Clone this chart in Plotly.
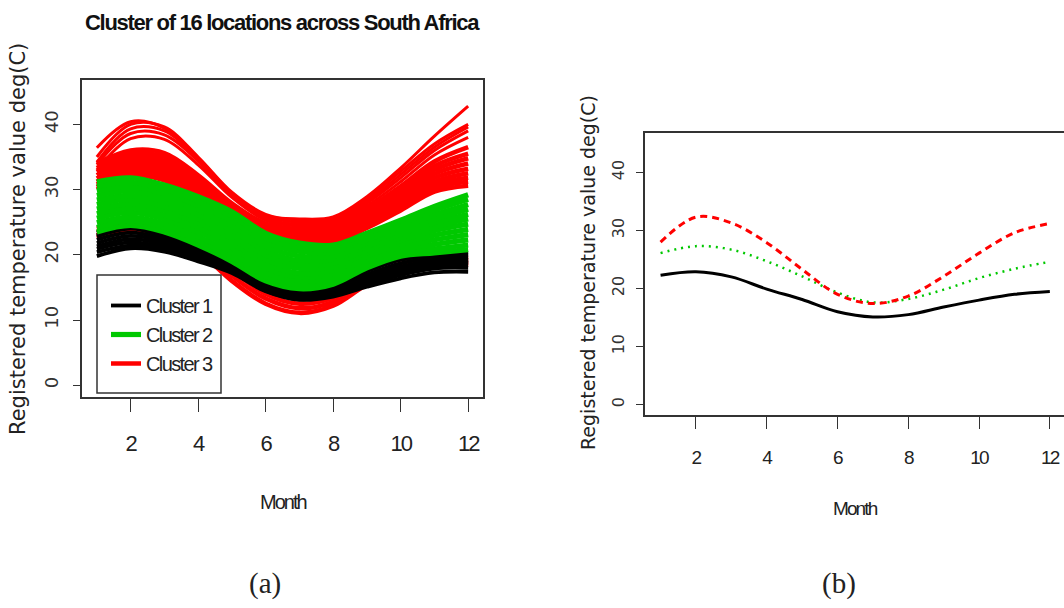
import plotly.graph_objects as go

# ---------------------------------------------------------------
# Data: registered monthly temperature curves (deg C), months 1..12
# ---------------------------------------------------------------
months = [1, 2, 3, 4, 5, 6, 7, 8, 9, 10, 11, 12]

# Cluster 1 (coolest locations)
cluster1_curves = [
    [23.4, 24.6, 23.4, 21.6, 19.3, 16.8, 15.5, 15.9, 17.9, 19.6, 20.2, 20.3],
    [22.8, 24.0, 22.9, 21.0, 18.8, 16.4, 15.1, 15.5, 17.5, 19.2, 19.9, 20.0],
    [23.0, 24.2, 22.5, 20.0, 17.5, 14.5, 13.2, 13.8, 15.6, 17.5, 18.6, 19.0],
    [22.3, 23.4, 22.4, 20.6, 18.5, 16.0, 14.7, 15.1, 17.0, 18.7, 19.5, 19.6],
    [21.8, 22.9, 22.0, 20.2, 18.2, 15.6, 14.3, 14.8, 16.6, 18.2, 19.1, 19.2],
    [21.3, 22.4, 21.6, 19.8, 17.9, 15.3, 14.0, 14.5, 16.2, 17.8, 18.7, 18.8],
    [20.9, 21.9, 21.2, 19.5, 17.6, 15.0, 13.7, 14.2, 15.8, 17.3, 18.3, 18.4],
    [20.4, 21.4, 20.9, 19.2, 17.4, 14.7, 13.4, 13.9, 15.4, 16.9, 17.9, 18.0],
    [19.8, 21.0, 20.5, 19.0, 17.2, 14.4, 13.1, 13.6, 15.1, 16.4, 17.3, 17.4],
]

# Cluster 2 (intermediate locations)
cluster2_curves = [
    [23.5, 24.5, 23.5, 21.5, 19.0, 16.0, 14.8, 15.5, 18.0, 19.8, 20.3, 20.8],
    [24.2, 25.2, 24.2, 22.2, 19.7, 16.7, 15.4, 16.0, 18.4, 20.2, 20.9, 21.5],
    [24.9, 25.8, 24.8, 22.8, 20.4, 17.3, 16.0, 16.5, 18.9, 20.7, 21.6, 22.3],
    [25.6, 26.5, 25.5, 23.5, 21.1, 18.0, 16.6, 17.1, 19.3, 21.2, 22.3, 23.1],
    [26.3, 27.2, 26.1, 24.2, 21.8, 18.7, 17.2, 17.6, 19.8, 21.7, 23.0, 23.9],
    [27.0, 27.8, 26.8, 24.9, 22.5, 19.3, 17.9, 18.2, 20.3, 22.2, 23.7, 24.7],
    [27.7, 28.5, 27.4, 25.5, 23.1, 20.0, 18.5, 18.7, 20.8, 22.7, 24.3, 25.5],
    [28.4, 29.1, 28.1, 26.2, 23.8, 20.6, 19.1, 19.3, 21.3, 23.2, 24.9, 26.2],
    [29.1, 29.8, 28.7, 26.9, 24.5, 21.3, 19.8, 19.8, 21.8, 23.7, 25.5, 27.0],
    [29.8, 30.5, 29.4, 27.6, 25.2, 22.0, 20.5, 20.4, 22.3, 24.2, 26.1, 27.7],
    [30.5, 31.1, 30.0, 28.2, 25.9, 22.6, 21.1, 20.9, 22.8, 24.8, 26.8, 28.5],
    [31.2, 31.8, 30.7, 28.9, 26.6, 23.3, 21.8, 21.5, 23.3, 25.3, 27.4, 29.2],
]

# Cluster 3 (hottest / most seasonal locations): a few extreme curves ...
cluster3_upper = [
    [36.4, 40.4, 39.4, 34.4, 29.0, 26.0, 25.5, 25.8, 28.9, 33.3, 38.2, 42.8],
    [35.0, 40.0, 39.6, 35.0, 29.6, 26.2, 25.3, 25.6, 28.6, 32.8, 37.0, 40.0],
    [34.2, 39.3, 39.0, 34.8, 29.4, 25.9, 25.0, 25.3, 28.2, 32.3, 36.5, 39.6],
    [33.8, 38.6, 38.4, 34.4, 29.2, 25.6, 24.7, 25.0, 27.9, 31.8, 36.0, 39.0],
    [33.0, 37.8, 37.7, 33.8, 28.8, 25.3, 24.4, 24.7, 27.5, 31.2, 35.3, 38.0],
]
# ... and the dense body of the cluster
cluster3_curves = [
    [34.0, 36.0, 35.6, 32.2, 27.9, 24.8, 24.0, 24.3, 27.0, 30.5, 34.3, 36.5],
    [33.3, 35.5, 35.0, 31.6, 27.5, 24.5, 23.7, 24.0, 26.6, 30.0, 33.6, 35.5],
    [32.7, 35.0, 34.4, 31.0, 27.0, 24.1, 23.4, 23.7, 26.2, 29.5, 33.0, 34.8],
    [32.2, 34.5, 33.9, 30.5, 26.6, 23.8, 23.1, 23.4, 25.8, 29.0, 32.4, 34.0],
    [31.7, 34.0, 33.4, 30.0, 26.2, 23.5, 22.8, 23.1, 25.4, 28.5, 31.8, 33.2],
    [31.2, 33.5, 32.9, 29.5, 25.8, 23.2, 22.5, 22.8, 25.0, 28.0, 31.2, 32.5],
    [30.8, 33.0, 32.4, 29.0, 25.4, 22.9, 22.2, 22.5, 24.7, 27.6, 30.7, 31.8],
    [30.4, 32.5, 31.9, 28.6, 25.0, 22.6, 21.9, 22.2, 24.4, 27.2, 30.2, 31.2],
    [30.0, 32.0, 31.4, 28.2, 24.6, 22.3, 21.6, 21.9, 24.1, 26.8, 29.7, 30.6],
    [22.6, 23.6, 22.4, 20.4, 16.0, 12.5, 11.1, 12.2, 15.4, 17.5, 18.3, 18.5],
    [23.0, 24.0, 22.8, 20.8, 16.8, 13.3, 11.8, 12.8, 15.8, 17.8, 18.6, 18.8],
    [23.5, 24.4, 23.2, 21.2, 17.6, 14.0, 12.5, 13.4, 16.2, 18.2, 19.0, 19.2],
    [24.0, 24.8, 23.6, 21.6, 18.3, 14.7, 13.2, 14.0, 16.6, 18.6, 19.4, 19.6],
]

# Mean curve of each cluster
cluster1_mean = [22.3, 22.9, 22.0, 19.9, 18.1, 16.0, 15.1, 15.5, 16.8, 18.0, 19.0, 19.5]
cluster2_mean = [26.1, 27.3, 26.7, 24.7, 22.1, 19.3, 17.6, 18.2, 19.8, 21.8, 23.4, 24.6]
cluster3_mean = [28.0, 32.3, 31.3, 27.9, 23.3, 19.0, 17.4, 18.7, 22.1, 26.1, 29.6, 31.2]

cluster_names = ["Cluster 1", "Cluster 2", "Cluster 3"]
month_ticks = [2, 4, 6, 8, 10, 12]
temp_ticks = [0, 10, 20, 30, 40]

# ---------------------------------------------------------------
BLACK = "#000000"
GREEN = "#00C800"
RED = "#FF0000"
AXIS = "#333333"
SANS = "Liberation Sans, Arial, sans-serif"
WIDE = "DejaVu Sans, Verdana, sans-serif"
SERIF = "Liberation Serif, Times New Roman, serif"

W, H = 1064, 608


def px(x):
    return x / W


def py(y):
    return 1 - y / H


def tight(text, spacing):
    """Horizontal text set a little tighter than the font's default."""
    return f'<span style="letter-spacing:{spacing}px">{text}</span>'


def joined(curves):
    """Concatenate several curves into one trace, separated by gaps."""
    xs, ys = [], []
    for c in curves:
        xs += months + [None]
        ys += list(c) + [None]
    return xs, ys


fig = go.Figure()

# ---- panel (a): all curves, coloured by cluster ----
xu, yu = joined(cluster3_upper)
fig.add_trace(go.Scatter(x=xu, y=yu, mode="lines", showlegend=False,
                         line=dict(color=RED, width=3, shape="spline"),
                         xaxis="x", yaxis="y"))
x3, y3 = joined(cluster3_curves)
fig.add_trace(go.Scatter(x=x3, y=y3, mode="lines", name=tight(cluster_names[2], -1.6),
                         line=dict(color=RED, width=4.5, shape="spline"),
                         legendrank=3, xaxis="x", yaxis="y"))
x1, y1 = joined(cluster1_curves)
fig.add_trace(go.Scatter(x=x1, y=y1, mode="lines", name=tight(cluster_names[0], -1.6),
                         line=dict(color=BLACK, width=3.8, shape="spline"),
                         legendrank=1, xaxis="x", yaxis="y"))
x2, y2 = joined(cluster2_curves)
fig.add_trace(go.Scatter(x=x2, y=y2, mode="lines", name=tight(cluster_names[1], -1.6),
                         line=dict(color=GREEN, width=5.2, shape="spline"),
                         legendrank=2, xaxis="x", yaxis="y"))

# ---- panel (b): cluster means ----
fig.add_trace(go.Scatter(x=months, y=cluster1_mean, mode="lines", showlegend=False,
                         line=dict(color=BLACK, width=3, shape="spline"),
                         xaxis="x2", yaxis="y2"))
fig.add_trace(go.Scatter(x=months, y=cluster2_mean, mode="lines", showlegend=False,
                         line=dict(color=GREEN, width=2.5, shape="spline", dash="2px,5px"),
                         xaxis="x2", yaxis="y2"))
fig.add_trace(go.Scatter(x=months, y=cluster3_mean, mode="lines", showlegend=False,
                         line=dict(color=RED, width=3, shape="spline", dash="7px,5px"),
                         xaxis="x2", yaxis="y2"))

xaxis_common = dict(
    tickvals=month_ticks, ticks="outside", tickcolor=AXIS, tickwidth=1.3,
    showline=True, linecolor=AXIS, linewidth=1.5,
    showgrid=False, zeroline=False,
)
yaxis_common = dict(
    range=[-1.8, 46.8], tickvals=temp_ticks, ticks="outside", ticklen=7,
    tickcolor=AXIS, tickwidth=1.3, tickangle=-90,
    showline=True, linecolor=AXIS, linewidth=1.5,
    showgrid=False, zeroline=False,
)

fig.update_layout(
    width=W, height=H,
    margin=dict(l=0, r=0, t=0, b=0),
    paper_bgcolor="white", plot_bgcolor="white",
    xaxis=dict(domain=[px(82), px(483)], range=[0.56, 12.44], mirror=True,
               ticklen=13, ticklabelstandoff=13,
               ticktext=[tight(str(t), -2.2) for t in month_ticks],
               tickfont=dict(family=SANS, size=22, color="#222"),
               anchor="y", **xaxis_common),
    yaxis=dict(domain=[py(397), py(80)], mirror=True, anchor="x",
               ticklabelstandoff=8,
               tickfont=dict(family=WIDE, size=18, color="#333"),
               **yaxis_common),
    xaxis2=dict(domain=[px(645), 1.0], range=[0.56, 12.40], mirror=True,
                ticklen=12, ticklabelstandoff=12,
                ticktext=[tight(str(t), -1.8) for t in month_ticks],
                tickfont=dict(family=SANS, size=19, color="#222"),
                anchor="y2", **xaxis_common),
    yaxis2=dict(domain=[py(415), py(133)], mirror=False, anchor="x2",
                ticklabelstandoff=6,
                tickfont=dict(family=WIDE, size=16, color="#333"),
                **yaxis_common),
    showlegend=True,
    legend=dict(x=px(106), y=py(286), xanchor="left", yanchor="top",
                bgcolor="rgba(0,0,0,0)", borderwidth=0,
                font=dict(family=SANS, size=20, color="#222"),
                itemwidth=30, tracegroupgap=0),
)

# legend frame
fig.add_shape(type="rect", xref="paper", yref="paper",
              x0=px(97), x1=px(221), y0=py(393), y1=py(275),
              line=dict(color=AXIS, width=1.5), fillcolor="white", layer="above")

annotations = [
    dict(text=tight("<b>Cluster of 16 locations across South Africa</b>", -1.3),
         x=px(282), y=py(22), font=dict(family=SANS, size=22, color="#111")),
    dict(text="Registered temperature value deg(C)", x=px(18), y=py(239), textangle=-90,
         font=dict(family=WIDE, size=21, color="#222")),
    dict(text="Registered temperature value deg(C)", x=px(588), y=py(273), textangle=-90,
         font=dict(family=WIDE, size=19, color="#222")),
    dict(text=tight("Month", -2.0), x=px(283), y=py(502),
         font=dict(family=SANS, size=20, color="#222")),
    dict(text=tight("Month", -1.9), x=px(855), y=py(508),
         font=dict(family=SANS, size=19, color="#222")),
    dict(text="(a)", x=px(265), y=py(583), font=dict(family=SERIF, size=29, color="#222")),
    dict(text="(b)", x=px(839), y=py(583), font=dict(family=SERIF, size=29, color="#222")),
]
for a in annotations:
    fig.add_annotation(xref="paper", yref="paper", xanchor="center", yanchor="middle",
                       showarrow=False, **a)

fig.write_html("out.html")
